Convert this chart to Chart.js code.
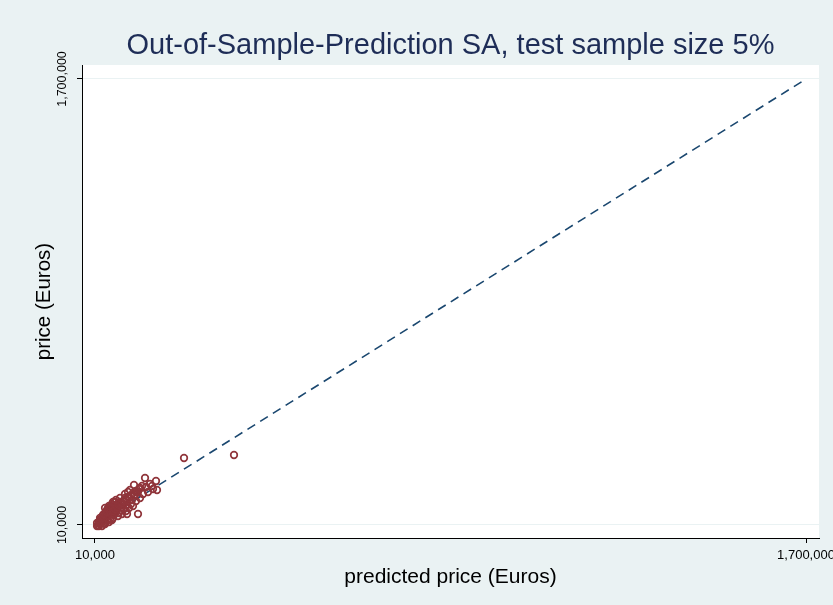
<!DOCTYPE html>
<html>
<head>
<meta charset="utf-8">
<script src="https://cdn.jsdelivr.net/npm/chart.js@4/dist/chart.umd.min.js"></script>
<style>
  html, body { margin: 0; padding: 0; background: #eaf2f3; }
  #wrap { width: 833px; height: 605px; }
</style>
</head>
<body>
<div id="wrap"><canvas id="chart" width="833" height="605"></canvas></div>
<script>
const chartTitle = 'Out-of-Sample-Prediction SA, test sample size 5%';
const xTitle = 'predicted price (Euros)';
const yTitle = 'price (Euros)';
const tickValues = [10000, 1700000];

const predicted = [221600, 340400, 128900, 155000, 157400, 102700, 140700, 117000, 131200, 145500,
    112200, 124100, 136000, 147900, 93200, 105100, 88400, 97900, 81300, 117000,
    69400, 57500, 76600, 64700, 86100, 95600, 107500, 112200, 86100, 21900,
    17100, 26600, 33800, 19500, 31400, 38500, 29000, 36100, 43300, 45700,
    50400, 40900, 33800, 55200, 59900, 67000, 52800, 45700, 24300, 14800,
    21900, 31400, 48000, 71800, 62300, 78900, 50400, 38500, 57500, 29000,
    40900, 19500, 26600, 64700, 74200, 83700, 90800, 100300,
    24300, 29000, 36100, 40900, 48000, 52800, 57500, 62300, 67000, 74200,
    78900, 86100, 90800, 95600, 100300, 107500, 114600, 121700, 21900, 31400,
    38500, 43300, 52800, 59900, 69400, 81300, 88400, 14800, 33800, 43300, 50400];
const price = [263900, 275200, 188100, 176700, 142600, 161600, 165300, 150200, 154000, 157800,
    135000, 127500, 135000, 146400, 142600, 123700, 116100, 104700, 112300, 112300,
    97100, 97100, 85800, 78200, 85800, 89600, 100900, 51700, 51700, 13800,
    10000, 21400, 28900, 21400, 36500, 44100, 47900, 59300, 51700, 66800,
    59300, 74400, 74400, 47900, 63000, 55500, 36500, 32700, 32700, 17600,
    28900, 17600, 82000, 66800, 85800, 70600, 89600, 66800, 78200, 40300,
    28900, 6200, 6200, 44100, 51700, 63000, 74400, 82000,
    17600, 25200, 36500, 44100, 51700, 63000, 70600, 78200, 85800, 93400,
    100900, 104700, 112300, 119900, 131200, 138800, 146400, 157800, 36500, 51700,
    59300, 82000, 97100, 104700, 112300, 127500, 135000, 6200, 13800, 21400, 28900];

// 45 degree reference line
const lineX = [10000, 1700000];
const lineY = [10000, 1700000];

const fmt = v => v.toLocaleString('en-US');

const plotBackground = {
    id: 'plotBackground',
    beforeDraw(chart) {
        const { ctx, chartArea: a } = chart;
        ctx.save();
        ctx.fillStyle = '#eaf2f3';
        ctx.fillRect(0, 0, chart.width, chart.height);
        ctx.fillStyle = '#ffffff';
        ctx.fillRect(a.left, a.top, a.right - a.left, a.bottom - a.top);
        ctx.restore();
    },
    afterDraw(chart) {
        const { ctx, chartArea: a } = chart;
        const ys = chart.scales.y;
        ctx.save();
        // title
        ctx.fillStyle = '#1e2d57';
        ctx.font = '29px "Liberation Sans", Arial, sans-serif';
        ctx.textAlign = 'center';
        ctx.textBaseline = 'alphabetic';
        ctx.fillText(chartTitle, (a.left + a.right) / 2, 54);
        // vertical y tick labels
        ctx.fillStyle = '#000';
        ctx.font = '12.5px "Liberation Sans", Arial, sans-serif';
        ys.ticks.forEach(t => {
            const y = ys.getPixelForValue(t.value);
            ctx.save();
            ctx.translate(65.5, y);
            ctx.rotate(-Math.PI / 2);
            ctx.fillText(fmt(t.value), 0, 0);
            ctx.restore();
        });
        ctx.restore();
    }
};

new Chart(document.getElementById('chart'), {
    type: 'scatter',
    data: {
        datasets: [{
            label: 'price',
            data: predicted.map((x, i) => ({ x: x, y: price[i] })),
            pointStyle: 'circle',
            pointRadius: 3.3,
            pointHoverRadius: 3.3,
            pointBorderWidth: 1.7,
            borderColor: '#90353b',
            backgroundColor: 'rgba(0,0,0,0)'
        }, {
            label: 'fit',
            type: 'line',
            data: lineX.map((x, i) => ({ x: x, y: lineY[i] })),
            borderColor: '#1a476f',
            borderWidth: 1.6,
            borderDash: [9, 6],
            pointRadius: 0,
            fill: false
        }]
    },
    options: {
        responsive: false,
        animation: false,
        layout: { padding: { left: 0, right: 14, top: 65, bottom: 0 } },
        plugins: {
            legend: { display: false },
            tooltip: { enabled: false },
            title: { display: false }
        },
        scales: {
            x: {
                type: 'linear',
                min: -20900,
                max: 1730900,
                afterBuildTicks: s => { s.ticks = tickValues.map(v => ({ value: v })); },
                afterFit: s => { s.height = 67; s.paddingLeft = 0; s.paddingRight = 0; },
                ticks: {
                    color: '#000',
                    font: { family: '"Liberation Sans", Arial, sans-serif', size: 13 },
                    padding: 5,
                    maxRotation: 0,
                    callback: v => fmt(v)
                },
                grid: { drawOnChartArea: false, drawTicks: true, tickLength: 5, tickColor: '#000' },
                border: { color: '#000', width: 1 },
                title: {
                    display: true,
                    text: xTitle,
                    color: '#000',
                    font: { family: '"Liberation Sans", Arial, sans-serif', size: 21 },
                    padding: { top: 0, bottom: 15 }
                }
            },
            y: {
                type: 'linear',
                min: -39300,
                max: 1753000,
                afterBuildTicks: s => { s.ticks = tickValues.map(v => ({ value: v })); },
                afterFit: s => { s.width = 82; },
                ticks: { display: false },
                grid: { color: '#eaf2f3', lineWidth: 1, drawTicks: true, tickLength: 5, tickColor: '#000' },
                border: { color: '#000', width: 1 },
                title: {
                    display: true,
                    text: yTitle,
                    color: '#000',
                    font: { family: '"Liberation Sans", Arial, sans-serif', size: 20.5 },
                    padding: { top: 32, bottom: 0 }
                }
            }
        }
    },
    plugins: [plotBackground]
});
</script>
</body>
</html>
